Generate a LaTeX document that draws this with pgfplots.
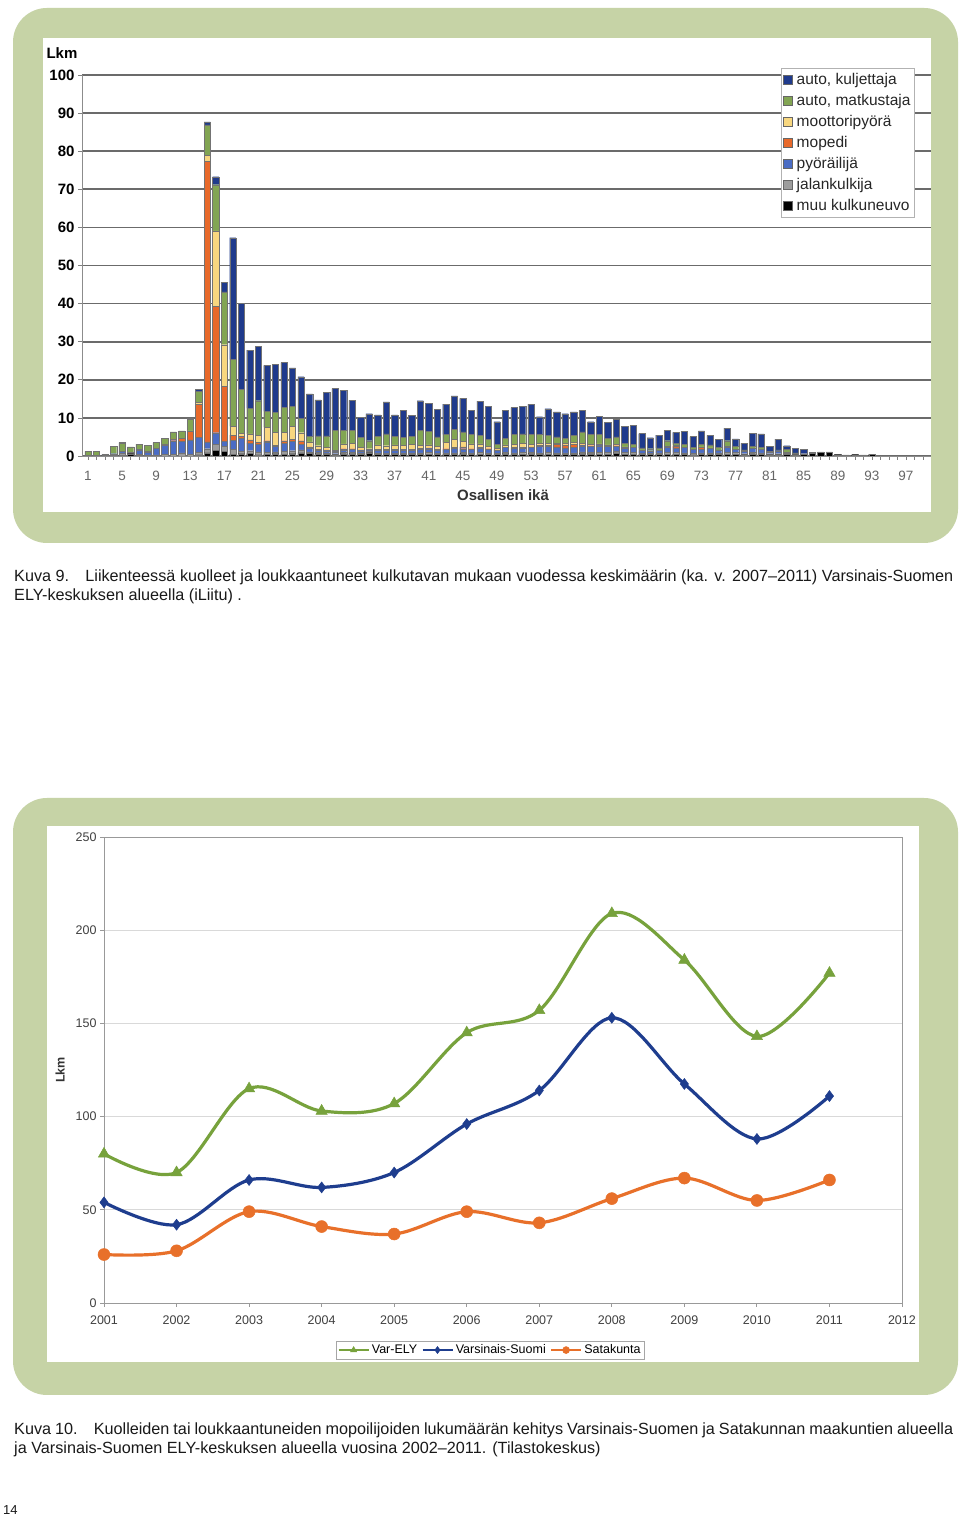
\documentclass[border=0pt]{standalone}
\usepackage{pgfplots}
\pgfplotsset{compat=1.18}
\usepackage{pgfplotstable}
\usepackage{fontspec}
\setmainfont{Liberation Sans}

\definecolor{framegreen}{HTML}{C6D3A6}
\definecolor{kulj}{HTML}{1F3A8C}
\definecolor{matk}{HTML}{82A553}
\definecolor{moot}{HTML}{F8D77F}
\definecolor{moped}{HTML}{E8692A}
\definecolor{pyor}{HTML}{4A6CC4}
\definecolor{jalan}{HTML}{9C9C9C}
\definecolor{muu}{HTML}{000000}
\definecolor{elygreen}{HTML}{77A23C}
\definecolor{vsblue}{HTML}{1E3D8E}
\definecolor{satorange}{HTML}{E8702A}

% Kuva 9: average count per age, by mode of transport
\pgfplotstableread{
age muu jalan pyor mop moot matk kulj
1 0 0.2 0 0 0 1.0 0
2 0 0.2 0 0 0 1.0 0
3 0.2 0 0 0 0 0 0.2
4 0 0.3 0.3 0 0 2.0 0
5 0.2 0.6 0.4 0 0 2.1 0.2
6 0.6 0.2 0.2 0 0 1.4 0
7 0.1 0.3 1.2 0.2 0 1.3 0
8 0 0.3 0.6 0.4 0 1.5 0
9 0 0.3 1.7 0 0 1.5 0
10 0 0.4 2.4 0.3 0 1.6 0
11 0 0.5 3.5 0.5 0 1.8 0
12 0 0.8 3.0 0.8 0 2.0 0
13 0 0.4 3.8 2.2 0.2 3.0 0.2
14 0.3 0.6 4.0 8.7 0.4 3.0 0.5
15 0.8 1.1 1.8 73.6 1.6 8.0 0.8
16 1.5 1.6 3.0 33.2 19.8 12.1 2.1
17 1.3 1.2 1.3 14.4 11.0 13.9 2.4
18 0.5 1.3 2.3 1.4 2.3 17.5 32.0
19 0.6 0.6 3.4 0.6 0.8 11.5 22.5
20 0.7 0.7 2.0 0.8 1.6 6.7 15.3
21 0.3 0.8 2.0 0.5 1.8 9.1 14.2
22 0.4 0.6 2.6 0.4 3.5 4.3 12.0
23 0.6 0.5 1.4 0.3 3.4 5.3 12.6
24 0.5 0.8 2.0 0.7 2.2 6.6 11.7
25 0.6 0.8 2.5 0.5 3.4 5.2 10.1
26 0.8 0.8 1.5 0.9 2.1 3.8 10.9
27 0.7 0.4 1.0 0.3 1.3 1.4 11.2
28 0.6 0.3 0.6 0.3 0.9 2.6 9.4
29 0.5 0.3 0.6 0.2 0.6 3.1 11.4
30 0.3 0.3 0.5 0.1 0.3 5.3 10.9
31 0.6 0.4 0.6 0.3 1.3 3.6 10.5
32 0.6 0.4 0.7 0.2 1.4 3.4 7.9
33 0.5 0.3 0.6 0.2 0.7 2.6 5.2
34 0.8 0.3 0.3 0.1 0.4 2.1 7.1
35 0.4 0.4 0.7 0.2 1.2 2.2 5.7
36 0.4 0.3 0.8 0.2 1.0 3.1 8.4
37 0.4 0.3 0.9 0.2 1.1 2.2 5.7
38 0.5 0.3 0.8 0.2 1.0 2.1 7.1
39 0.5 0.3 0.7 0.3 1.2 2.1 5.5
40 0.5 0.3 1.0 0.2 0.8 4.0 7.7
41 0.5 0.4 1.0 0.2 0.8 3.6 7.3
42 0.4 0.3 0.8 0.2 0.9 2.4 7.3
43 0.4 0.4 0.9 0.2 1.6 2.1 8.0
44 0.4 0.4 1.2 0.3 2.0 2.7 8.8
45 0.6 0.4 0.9 0.5 1.4 2.5 8.8
46 0.4 0.4 0.9 0.2 1.3 2.4 6.4
47 0.5 0.4 1.2 0.2 0.9 2.2 9.0
48 0.4 0.4 1.0 0.1 0.6 1.8 8.8
49 0.4 0.3 0.8 0.1 0.4 1.1 5.9
50 0.6 0.4 1.2 0.1 0.6 1.8 7.3
51 0.5 0.3 1.2 0.2 0.9 2.5 7.1
52 0.5 0.4 1.2 0.2 1.0 2.5 7.3
53 0.6 0.4 1.3 0.1 0.6 2.6 8.0
54 0.4 0.4 1.8 0.2 0.5 2.3 4.7
55 0.5 0.4 1.7 0.2 0.6 2.0 7.0
56 0.4 0.4 1.6 0.6 0.4 1.6 6.6
57 0.4 0.4 1.3 0.8 0.4 1.4 6.4
58 0.4 0.4 1.4 0.9 0.5 1.8 6.2
59 0.6 0.5 1.6 0.2 0.4 3.0 5.7
60 0.6 0.4 1.6 0.1 0.3 2.6 3.4
61 0.5 0.4 1.8 0.1 0.4 2.4 4.8
62 0.5 0.5 1.5 0.1 0.3 1.8 4.2
63 0.8 0.4 1.4 0.1 0.3 2.0 4.7
64 0.5 0.4 1.2 0.1 0.2 1.0 4.3
65 0.5 0.4 1.3 0 0.1 0.8 5.0
66 0.4 0.3 0.8 0 0.1 0.5 3.8
67 0.4 0.3 0.7 0 0 0.5 2.9
68 0.5 0.3 0.7 0 0 0.6 3.4
69 0.5 0.4 1.5 0 0.2 1.4 2.8
70 0.5 0.4 1.2 0.5 0.2 0.6 2.8
71 0.4 0.4 1.4 0 0.1 0.8 3.4
72 0.3 0.4 1.0 0 0 0.5 2.9
73 0.4 0.4 1.0 0.4 0.2 0.7 3.5
74 0.4 0.4 1.2 0 0.1 0.8 2.5
75 0.4 0.4 0.8 0 0 0.6 2.1
76 0.4 0.5 1.5 0 0.1 1.5 3.3
77 0.5 0.4 0.9 0 0 0.7 2.0
78 0.3 0.3 0.6 0 0 0.4 1.7
79 0.6 0.4 1.0 0 0 0.5 3.5
80 0.4 0.4 1.0 0 0 0.4 3.6
81 0.3 0.3 0.4 0 0 0.2 1.3
82 0.3 0.3 0.8 0 0 0.2 2.8
83 0.4 0.3 0.3 0 0 0.8 0.9
84 0.3 0.2 0.2 0 0 0.1 1.2
85 0.4 0.2 0 0 0 0 1.15
86 0.7 0.2 0 0 0 0 0
87 0.9 0.2 0 0 0 0 0
88 0.9 0.2 0 0 0 0 0
89 0.35 0.1 0 0 0 0 0
90 0 0.3 0 0 0 0 0
91 0.35 0.1 0 0 0 0 0
92 0 0.3 0 0 0 0 0
93 0.4 0.1 0 0 0 0 0
}\ikadata

\begin{document}
\begin{tikzpicture}[x=1pt,y=1pt]
\useasboundingbox (0,0) rectangle (960,1517);
\fill[white] (0,0) rectangle (960,1517);

% frames
\fill[framegreen, rounded corners=34pt] (13,974) rectangle (958,1509);
\fill[white] (43,1005) rectangle (931,1479);
\fill[framegreen, rounded corners=34pt] (13,122) rectangle (958,719);
\fill[white] (47,155) rectangle (919,691);

% ---- Kuva 9 ----
\begin{axis}[
    at={(82pt,1061pt)}, anchor=south west,
    scale only axis, width=849pt, height=381pt,
    ybar stacked, bar width=0.74,
    xmin=0.3, xmax=99.94, ymin=0, ymax=100,
    xtick={1,5,...,97}, minor xtick={1,...,99},
    ytick={0,10,...,100},
    axis lines*=left,
    axis line style={black!45, line width=0.8pt},
    ymajorgrids, grid style={black!58, line width=1.7pt},
    tick style={black!50, line width=0.6pt},
    tick align=outside, major tick length=4pt, minor tick length=4pt,
    /pgf/number format/assume math mode=true,
    yticklabel style={font=\fontsize{15}{17}\selectfont\bfseries, text=black},
    xticklabel style={font=\fontsize{13.5}{16}\selectfont, text=black!60, yshift=-8pt},
    legend style={at={(0.823,1.018)}, anchor=north west,
        draw=black!30, fill=white, font=\fontsize{15.5}{18}\selectfont,
        row sep=4.3pt, inner xsep=2pt, inner ysep=3pt, text=black!85,
        /tikz/every odd column/.append style={column sep=2.5pt}},
    legend cell align=left,
    reverse legend,
    legend image code/.code={\draw[#1, draw=black!60] (0pt,-4.5pt) rectangle (9pt,4.5pt);},
    every axis plot/.append style={draw=black!55, line width=0.3pt},
]
\addplot[fill=muu] table[x=age,y=muu]{\ikadata};
\addlegendentry{muu kulkuneuvo}
\addplot[fill=jalan] table[x=age,y=jalan]{\ikadata};
\addlegendentry{jalankulkija}
\addplot[fill=pyor] table[x=age,y=pyor]{\ikadata};
\addlegendentry{pyöräilijä}
\addplot[fill=moped] table[x=age,y=mop]{\ikadata};
\addlegendentry{mopedi}
\addplot[fill=moot] table[x=age,y=moot]{\ikadata};
\addlegendentry{moottoripyörä}
\addplot[fill=matk] table[x=age,y=matk]{\ikadata};
\addlegendentry{auto, matkustaja}
\addplot[fill=kulj] table[x=age,y=kulj]{\ikadata};
\addlegendentry{auto, kuljettaja}
\end{axis}
\node[font=\fontsize{15}{17}\selectfont\bfseries] at (62,1464) {Lkm};
\node[font=\fontsize{15}{17}\selectfont\bfseries, text=black!80] at (503,1022) {Osallisen ikä};

% ---- Kuva 10 ----
\begin{axis}[
    at={(104pt,214pt)}, anchor=south west,
    scale only axis, width=798pt, height=466pt,
    xmin=2001, xmax=2012, ymin=0, ymax=250,
    xtick={2001,...,2012}, ytick={0,50,...,250},
    ymajorgrids, grid style={black!15, line width=0.8pt},
    axis line style={black!40, line width=0.9pt},
    tick style={black!40, line width=0.8pt},
    tick align=outside, tick pos=left, major tick length=4pt,
    /pgf/number format/assume math mode=true,
    /pgf/number format/1000 sep={},
    yticklabel style={font=\fontsize{12.5}{15}\selectfont, text=black!75},
    xticklabel style={font=\fontsize{12.5}{15}\selectfont, text=black!75, yshift=-5pt},
    legend style={at={(0.4837,-0.101)}, anchor=center, legend columns=3,
        draw=black!35, fill=white, font=\fontsize{12.5}{15}\selectfont,
        inner sep=1.5pt, /tikz/every even column/.append style={column sep=2pt}},
    legend image code/.code={\draw[mark repeat=2,mark phase=2,#1,mark size=3.5pt,line width=2.5pt]
        plot coordinates {(0pt,0pt) (15pt,0pt) (30pt,0pt)};},
]
\addplot[smooth, tension=0.55, color=elygreen, line width=3.2pt, mark=triangle*, mark size=6.5pt, mark options={line width=0.5pt}]
coordinates {(2001,80) (2002,70) (2003,115) (2004,103) (2005,107) (2006,145) (2007,157) (2008,209) (2009,184) (2010,143) (2011,177)};
\addlegendentry{Var-ELY}
\addplot[smooth, tension=0.55, color=vsblue, line width=3.2pt, mark=diamond*, mark size=5.5pt, mark options={line width=0.5pt}]
coordinates {(2001,54) (2002,42) (2003,66) (2004,62) (2005,70) (2006,96) (2007,114) (2008,153) (2009,117.5) (2010,88) (2011,111)};
\addlegendentry{Varsinais-Suomi}
\addplot[smooth, tension=0.55, color=satorange, line width=3.2pt, mark=*, mark size=6pt, mark options={line width=0.5pt}]
coordinates {(2001,26) (2002,28) (2003,49) (2004,41) (2005,37) (2006,49) (2007,43) (2008,56) (2009,67) (2010,55) (2011,66)};
\addlegendentry{Satakunta}
\end{axis}
\node[font=\fontsize{12.5}{15}\selectfont\bfseries, rotate=90, text=black!80] at (60,447) {Lkm};

% captions
\node[anchor=base west, inner sep=0pt, font=\fontsize{16.2}{19}\selectfont, text=black!90] at (14,935)
  {\makebox[939pt][s]{Kuva 9.\quad Liikenteessä kuolleet ja loukkaantuneet kulkutavan mukaan vuodessa keskimäärin (ka. v. 2007–2011) Varsinais-Suomen}};
\node[anchor=base west, inner sep=0pt, font=\fontsize{16.2}{19}\selectfont, text=black!90] at (14,916)
  {ELY-keskuksen alueella (iLiitu) .};
\node[anchor=base west, inner sep=0pt, font=\fontsize{16.2}{19}\selectfont, text=black!90] at (14,82)
  {\makebox[939pt][s]{Kuva 10.\quad Kuolleiden tai loukkaantuneiden mopoilijoiden lukumäärän kehitys Varsinais-Suomen ja Satakunnan maakuntien alueella}};
\node[anchor=base west, inner sep=0pt, font=\fontsize{16.2}{19}\selectfont, text=black!90] at (14,63)
  {ja Varsinais-Suomen ELY-keskuksen alueella vuosina 2002–2011. (Tilastokeskus)};
\node[anchor=base west, inner sep=0pt, font=\fontsize{13}{15}\selectfont, text=black!90] at (3,2) {14};
\end{tikzpicture}
\end{document}
